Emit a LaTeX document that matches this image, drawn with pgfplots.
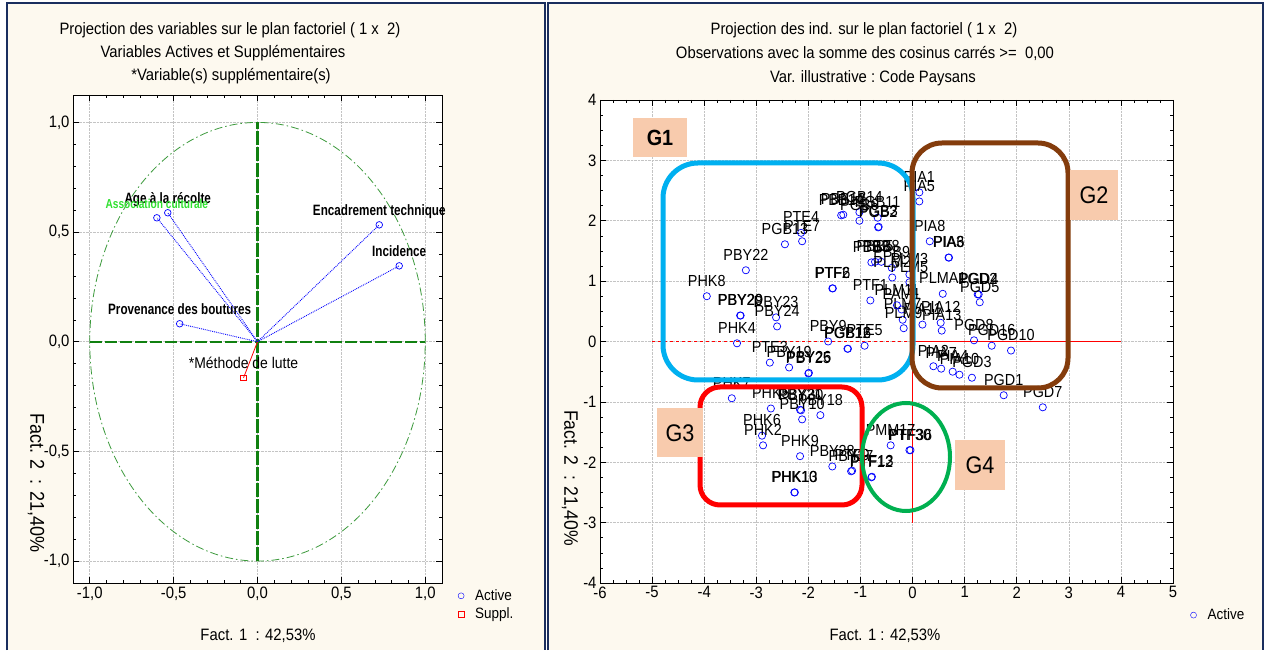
\documentclass[border=0pt]{standalone}
\usepackage{fontspec}
\setmainfont{Liberation Sans}[FakeStretch=0.9]
\newfontfamily\cond{Liberation Sans}[FakeStretch=0.78]
\usepackage{pgfplots}
\pgfplotsset{compat=1.18}
\definecolor{navy}{HTML}{1A2E5E}
\definecolor{cream}{HTML}{FDF9EF}
\definecolor{gridgray}{HTML}{C4C4C4}
\definecolor{dgreen}{HTML}{108010}
\definecolor{cgreen}{HTML}{3C9A3C}
\definecolor{lgreen}{HTML}{30E030}
\definecolor{cyanbox}{HTML}{00B0F0}
\definecolor{brownbox}{HTML}{843C0C}
\definecolor{greenbox}{HTML}{00B050}
\definecolor{peach}{HTML}{F8CBAD}
\pgfplotsset{
  statstyle/.style={
    scale only axis, anchor=south west,
    tick align=inside, major tick length=6pt, minor tick length=3pt,
    grid=major, grid style={gridgray, densely dotted, line width=0.6pt},
    axis background/.style={fill=white},
    axis line style={line width=0.8pt},
    every tick/.style={black, line width=0.6pt},
    tick label style={font=\fontsize{16.5}{16.5}\selectfont},
    /pgf/number format/assume math mode=true,
    clip=false,
    legend cell align=left,
  }
}
\begin{document}
\begin{tikzpicture}[x=1pt,y=1pt]
\useasboundingbox (0,0) rectangle (1265,650);
\fill[white] (0,0) rectangle (1265,650);
\fill[cream] (7,0) rectangle (545,647);
\fill[cream] (548,0) rectangle (1263,647);
\draw[navy, line width=2.5pt] (7,0) -- (7,647) -- (545,647) -- (545,0);
\draw[navy, line width=2.5pt] (548,0) -- (548,647) -- (1263,647) -- (1263,0);

% ---------- left panel: variables ----------
\begin{axis}[statstyle,
  at={(73pt,67pt)}, width=369pt, height=488pt,
  xmin=-1.1, xmax=1.1, ymin=-1.1, ymax=1.125,
  xtick={-1,-0.5,0,0.5,1}, ytick={-1,-0.5,0,0.5,1},
  minor tick num=4,
  /pgf/number format/use comma, /pgf/number format/fixed,
  /pgf/number format/fixed zerofill, /pgf/number format/precision=1,
  legend style={at={(axis description cs:1.035,-0.005)}, anchor=north west,
    draw=none, fill=none, font=\fontsize{15}{15}\selectfont, row sep=2pt,
    nodes={inner sep=2pt},
    /tikz/every odd column/.append style={column sep=9pt}},
]
\draw[cgreen, dash pattern=on 8pt off 3pt on 1.5pt off 3pt, line width=0.8pt] (axis cs:0,0) ellipse [x radius=1, y radius=1];
\addplot[dgreen, dash pattern=on 12pt off 3pt, line width=1.6pt, forget plot] coordinates {(-1,0) (1,0)};
\addplot[dgreen, dash pattern=on 14pt off 2pt, line width=2.2pt, forget plot] coordinates {(0,-1) (0,1)};
% vectors
\addplot[blue, densely dotted, line width=0.9pt, forget plot] coordinates {(0,0) (-0.600,0.565)};
\addplot[blue, densely dotted, line width=0.9pt, forget plot] coordinates {(0,0) (-0.535,0.588)};
\addplot[blue, densely dotted, line width=0.9pt, forget plot] coordinates {(0,0) (0.726,0.533)};
\addplot[blue, densely dotted, line width=0.9pt, forget plot] coordinates {(0,0) (0.845,0.346)};
\addplot[blue, densely dotted, line width=0.9pt, forget plot] coordinates {(0,0) (-0.464,0.082)};
\addplot[red, line width=0.8pt, forget plot] coordinates {(0,0) (-0.083,-0.164)};
\addplot[only marks, mark=o, mark size=3.3pt, blue, line width=0.7pt, forget plot,
  nodes near coords, point meta=explicit symbolic,
  every node near coord/.style={anchor=base, yshift=9pt, inner sep=0pt, text=black,
    font=\cond\bfseries\fontsize{15}{15}\selectfont}]
  table[col sep=comma, meta=label, row sep=\\] {
x,y,label\\
-0.535,0.588,Age à la récolte\\
0.726,0.533,Encadrement technique\\
0.845,0.346,Incidence\\
-0.464,0.082,Provenance des boutures\\
};
\addplot[only marks, mark=o, mark size=3.3pt, blue, line width=0.7pt, forget plot,
  nodes near coords, point meta=explicit symbolic,
  every node near coord/.style={anchor=base, yshift=9pt, inner sep=0pt, text=lgreen,
    font=\cond\bfseries\fontsize{13}{13}\selectfont}]
  table[col sep=comma, meta=label, row sep=\\] {
x,y,label\\
-0.600,0.565,Association culturale\\
};
\addplot[only marks, mark=square, mark size=2.8pt, red, line width=0.7pt, forget plot,
  nodes near coords, point meta=explicit symbolic,
  every node near coord/.style={anchor=base, yshift=9pt, inner sep=0pt, text=black,
    font=\fontsize{15.5}{15.5}\selectfont}]
  table[col sep=comma, meta=label, row sep=\\] {
x,y,label\\
-0.083,-0.164,*Méthode de lutte\\
};
\addlegendimage{only marks, mark=o, mark size=3pt, blue}
\addlegendentry{Active}
\addlegendimage{only marks, mark=square, mark size=2.8pt, red}
\addlegendentry{Suppl.}
\end{axis}

% ---------- right panel: individuals ----------
\begin{axis}[statstyle,
  at={(600pt,67pt)}, width=573pt, height=483pt,
  xmin=-6, xmax=5, ymin=-4, ymax=4,
  xtick distance=1, ytick distance=1, minor tick num=3,
  legend style={at={(axis description cs:1.025,-0.045)}, anchor=north west,
    draw=none, fill=none, font=\fontsize{15}{15}\selectfont,
    nodes={inner sep=2pt},
    /tikz/every odd column/.append style={column sep=9pt}},
]
\addplot[red, dashed, line width=0.8pt, forget plot] coordinates {(-5,0) (0,0)};
\addplot[red, line width=0.8pt, forget plot] coordinates {(0,0) (4,0)};
\addplot[red, line width=0.8pt, forget plot] coordinates {(0,0) (0,-3)};
\addplot[only marks, mark=o, mark size=3.6pt, blue, line width=0.7pt, forget plot,
  nodes near coords, point meta=explicit symbolic,
  every node near coord/.style={anchor=base, yshift=10pt, inner sep=0pt, text=black,
    font=\fontsize{16}{16}\selectfont}]
  table[meta=label, row sep=\\] {
x y label\\
-3.95 0.75 PHK8\\
-3.20 1.18 PBY22\\
-2.45 1.61 PGB13\\
-2.14 1.80 PTE4\\
-2.12 1.66 PTE7\\
-3.31 0.43 PBY20\\
-3.30 0.43 PBY29\\
-2.62 0.40 PBY23\\
-2.60 0.25 PBY24\\
-3.37 -0.03 PHK4\\
-2.74 -0.35 PTE3\\
-2.37 -0.43 PBY19\\
-2.00 -0.53 PBY25\\
-1.99 -0.52 PBY26\\
-1.62 0.00 PBY9\\
-1.25 -0.12 PGB12\\
-1.24 -0.12 PGB16\\
-0.92 -0.07 PTE5\\
-1.54 0.88 PTF2\\
-1.53 0.88 PTF6\\
-0.81 0.68 PTF1\\
-1.37 2.09 PBB14\\
-1.33 2.10 PBB12\\
-1.02 2.14 PGB14\\
-1.02 2.00 PGB6\\
-0.67 2.05 PGB11\\
-0.66 1.89 PGB2\\
-0.65 1.90 PGB3\\
-0.79 1.31 PBB3\\
-0.72 1.32 PBB5\\
-0.60 1.32 PBB8\\
-0.40 1.22 PBB9\\
-0.39 1.06 PLM2\\
-0.06 1.11 PLM3\\
-0.06 0.98 PLM5\\
-0.21 0.53 PAM1\\
-0.19 0.36 PLM7\\
-0.17 0.22 PLM9\\
-0.30 0.60 PLM11\\
0.13 2.47 PIA1\\
0.13 2.32 PIA5\\
0.33 1.66 PIA8\\
0.69 1.39 PIA3\\
0.70 1.39 PIA6\\
0.58 0.79 PLMA1\\
1.25 0.78 PGD2\\
1.27 0.78 PGD4\\
1.29 0.65 PGD5\\
0.19 0.28 PIA11\\
0.54 0.31 PIA12\\
0.56 0.18 PIA13\\
1.18 0.02 PGD8\\
1.52 -0.07 PGD16\\
1.89 -0.15 PGD10\\
1.75 -0.89 PGD1\\
2.50 -1.09 PGD7\\
0.40 -0.41 PIA2\\
0.77 -0.50 PIA4\\
1.14 -0.60 PGD3\\
0.55 -0.45 PIA7\\
0.90 -0.55 PIA10\\
-3.47 -0.94 PHK7\\
-2.72 -1.11 PHK5\\
-2.16 -1.13 PBY21\\
-2.14 -1.14 PBY30\\
-2.12 -1.29 PBY10\\
-1.77 -1.22 PBY18\\
-2.89 -1.56 PHK6\\
-2.87 -1.72 PHK2\\
-2.16 -1.90 PHK9\\
-1.54 -2.07 PBY28\\
-1.18 -2.15 PBY27\\
-1.16 -2.14 PTF9\\
-2.27 -2.50 PHK10\\
-2.26 -2.50 PHK13\\
-0.42 -1.72 PMM17\\
-0.06 -1.80 PTF30\\
-0.04 -1.80 PTF36\\
-0.79 -2.25 PTF12\\
-0.78 -2.24 PTF13\\
};
\addlegendimage{only marks, mark=o, mark size=3pt, blue}
\addlegendentry{Active}
\end{axis}

% ---------- cluster annotations ----------
\draw[cyanbox, line width=5pt, rounded corners=35pt] (663,270) rectangle (913,487);
\draw[brownbox, line width=5pt, rounded corners=30pt] (912,262) rectangle (1068,507);
\draw[red, line width=5pt, rounded corners=20pt] (700,145) rectangle (862,263);
\draw[greenbox, line width=4pt] (906,193) ellipse [x radius=44, y radius=54];
\fill[peach] (633,493) rectangle (687,532);
\node[font=\bfseries\fontsize{22}{22}\selectfont] at (660,512) {G1};
\fill[peach] (1070,430) rectangle (1118,480);
\node[font=\fontsize{24}{24}\selectfont] at (1094,455) {G2};
\fill[peach] (657,193) rectangle (703,242);
\node[font=\fontsize{24}{24}\selectfont] at (680,217) {G3};
\fill[peach] (955,160) rectangle (1005,210);
\node[font=\fontsize{24}{24}\selectfont] at (980,185) {G4};

% ---------- titles and axis labels ----------
\begin{scope}[every node/.style={font=\fontsize{16.5}{16.5}\selectfont, inner sep=0pt}]
\node at (230,620) {Projection des variables sur le plan factoriel (\ 1 x\ \ 2)};
\node at (223,597) {Variables Actives et Supplémentaires};
\node at (231,574) {*Variable(s) supplémentaire(s)};
\node at (864,620) {Projection des ind. sur le plan factoriel (\ 1 x\ \ 2)};
\node at (865,597) {Observations avec la somme des cosinus carrés >=\ \ 0,00};
\node at (873,572) {Var. illustrative :\ Code Paysans};
\node at (258,14) {Fact. 1\ \ : 42,53\%};
\node at (885,14) {Fact. 1 : 42,53\%};
\end{scope}
\node[font=\fontsize{20}{20}\selectfont, rotate=-90, inner sep=0pt] at (36,167) {Fact. 2\ \ : 21,40\%};
\node[font=\fontsize{19.5}{19.5}\selectfont, rotate=-90, inner sep=0pt] at (570,172) {Fact. 2\ \ : 21,40\%};
\end{tikzpicture}
\end{document}
